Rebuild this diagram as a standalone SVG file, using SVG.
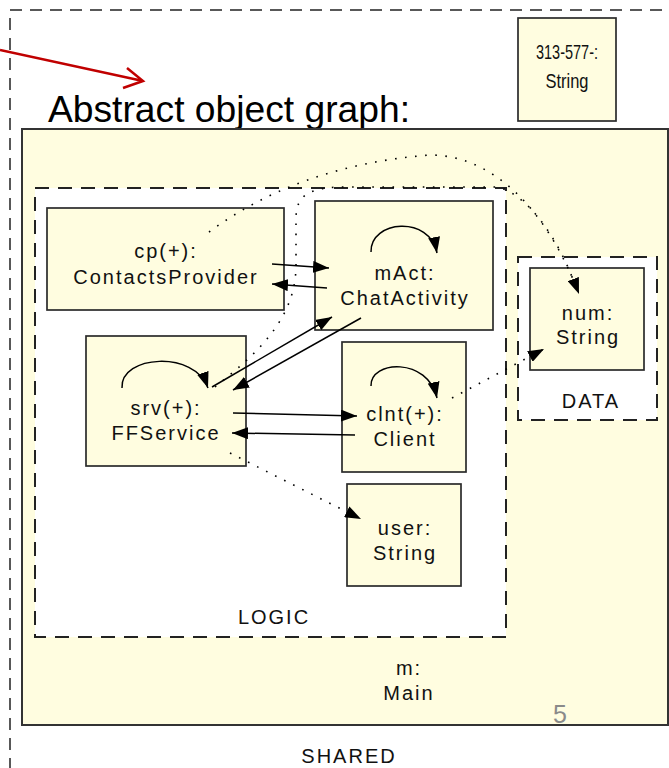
<svg xmlns="http://www.w3.org/2000/svg" width="669" height="768" viewBox="0 0 669 768">
<style>
.box{fill:#FFFDE0;stroke:#2b2b2b;stroke-width:1.7}
.dom{fill:#fff;stroke:#222;stroke-width:2;stroke-dasharray:14 9}
.t{font-family:"Liberation Sans",Arial,sans-serif;font-size:20px;letter-spacing:2px;text-anchor:middle;fill:#111}
.c{fill:none;stroke:#000;stroke-width:1.5}
.d{fill:none;stroke:#000;stroke-width:1.6;stroke-dasharray:1.6 8.5}
</style>
<defs>
<marker id="ah" viewBox="0 0 16 12" refX="16" refY="6" markerWidth="16" markerHeight="12" markerUnits="userSpaceOnUse" orient="auto"><path d="M0,0 L16,6 L0,12 z" fill="#000"/></marker>
</defs>
<rect x="10" y="10" width="700" height="800" fill="none" stroke="#222" stroke-width="1.5" stroke-dasharray="12 8"/>
<g id="title">
<text x="48" y="122" font-family="Liberation Sans,Arial,sans-serif" font-size="37" textLength="362" lengthAdjust="spacingAndGlyphs" fill="#000">Abstract object graph:</text>
<path d="M0,50 L143,81 M127,68 L143,81 L123,88" fill="none" stroke="#C00000" stroke-width="2.5"/>
</g>
<g id="str313">
<rect class="box" x="518" y="18" width="98" height="103"/>
<text x="567" y="59" font-family="Liberation Sans,Arial,sans-serif" font-size="21" text-anchor="middle" textLength="62" lengthAdjust="spacingAndGlyphs" fill="#111">313-577-:</text>
<text x="567" y="88" font-family="Liberation Sans,Arial,sans-serif" font-size="21" text-anchor="middle" textLength="43" lengthAdjust="spacingAndGlyphs" fill="#111">String</text>
</g>
<g id="main">
<rect x="22" y="129" width="646" height="596" fill="#FFFDE0" stroke="#333" stroke-width="2"/>
<text class="t" x="409" y="675">m:</text>
<text class="t" x="409" y="700">Main</text>
<text x="560" y="723" font-family="Liberation Sans,Arial,sans-serif" font-size="25" text-anchor="middle" fill="#8a8a8a">5</text>
</g>
<text class="t" x="349" y="763">SHARED</text>
<g id="logic">
<rect class="dom" x="35" y="188" width="471" height="449"/>
<text class="t" x="274" y="624">LOGIC</text>
</g>
<g id="data">
<rect class="dom" x="518" y="257" width="139" height="163"/>
<text class="t" x="591" y="408">DATA</text>
</g>
<g id="cp">
<rect class="box" x="47" y="208" width="237" height="102"/>
<text class="t" x="166" y="258">cp(+):</text>
<text class="t" x="166" y="284">ContactsProvider</text>
</g>
<g id="mAct">
<rect class="box" x="315" y="201" width="178" height="129"/>
<text class="t" x="405" y="280">mAct:</text>
<text class="t" x="405" y="305">ChatActivity</text>
</g>
<g id="srv">
<rect class="box" x="86" y="336" width="160" height="130"/>
<text class="t" x="166" y="415">srv(+):</text>
<text class="t" x="166" y="440">FFService</text>
</g>
<g id="clnt">
<rect class="box" x="342" y="342" width="124" height="130"/>
<text class="t" x="405" y="421">clnt(+):</text>
<text class="t" x="405" y="446">Client</text>
</g>
<g id="user">
<rect class="box" x="347" y="484" width="114" height="102"/>
<text class="t" x="405" y="535">user:</text>
<text class="t" x="405" y="560">String</text>
</g>
<g id="num">
<rect class="box" x="530" y="268" width="114" height="102"/>
<text class="t" x="588" y="320">num:</text>
<text class="t" x="588" y="344">String</text>
</g>
<g id="connectors">
<path class="c" d="M272,264 L329,268" marker-end="url(#ah)"/>
<path class="c" d="M327,288 L272,284" marker-end="url(#ah)"/>
<path class="c" d="M212,387 L332,317" marker-end="url(#ah)"/>
<path class="c" d="M361,318 L233,390" marker-end="url(#ah)"/>
<path class="c" d="M233,413 L357,416" marker-end="url(#ah)"/>
<path class="c" d="M355,435 L232,433" marker-end="url(#ah)"/>
<path class="c" d="M371,252 C370,220 430,215 437,253" marker-end="url(#ah)"/>
<path class="c" d="M371,386 C370,360 428,357 437,398" marker-end="url(#ah)"/>
<path class="c" d="M122,388 C120,355 195,350 208,388" marker-end="url(#ah)"/>
<path class="d" d="M209,232 Q300,165 430,155 C490,155 545,205 579,294" marker-end="url(#ah)"/>
<path class="d" d="M215,387 C255,355 296,320 296,265 L296,218 C296,195 310,187 345,187 L495,187 C525,190 560,240 576,288"/>
<path class="d" d="M452,398 L544,349" marker-end="url(#ah)"/>
<path class="d" d="M230,453 L361,519" marker-end="url(#ah)"/>
</g>
</svg>
